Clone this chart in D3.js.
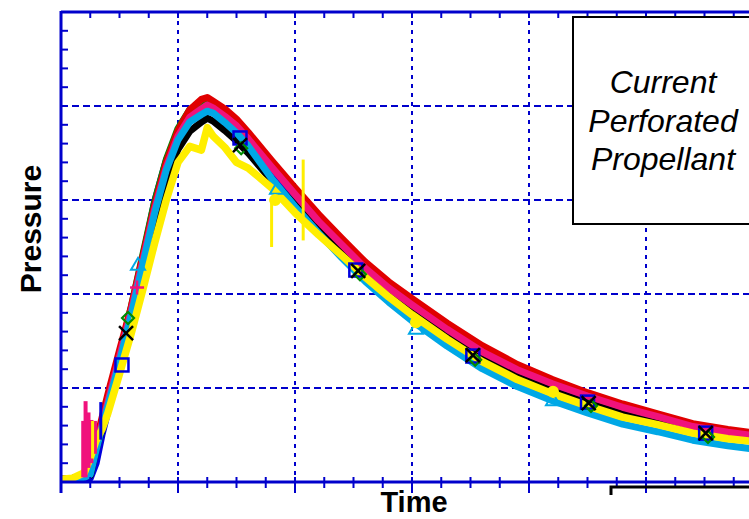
<!DOCTYPE html>
<html><head><meta charset="utf-8">
<script src="https://cdn.jsdelivr.net/npm/d3@7"></script>
<style>body{margin:0;background:#fff;overflow:hidden}</style>
</head><body>
<svg id="c" width="749" height="519"></svg>
<script>
// ---- data (time in arbitrary units, pressure in arbitrary units) ----
const time   = [0,1,2,2.5,3,3.5,4,5,6,7,8,9,10,11,12,12.5,13,14,15,16,18,20,22,24,26,28,30,33,36,39,42,45,48,51,54,57,60];
const blue   = [0.1,0.1,0.2,0.4,2.0,5.0,7.5,12.5,17.8,23.8,29.8,34.2,37.2,39.0,39.8,39.9,39.5,38.6,37.5,36.0,32.6,29.8,27.2,24.7,22.3,20.2,18.3,15.6,13.2,11.3,9.8,8.5,7.4,6.5,5.6,5.0,4.5];
const black  = [0.3,0.4,0.6,0.7,3.5,5.6,7.7,11.9,16.4,21.9,27.4,32.1,35.4,37.3,38.3,38.7,38.4,37.4,36.3,35.0,32.1,29.5,26.9,24.5,22.1,20.0,18.1,15.5,13.1,11.2,9.7,8.4,7.3,6.5,5.6,5.0,4.5];
const green  = [0.3,0.4,0.6,1.0,3.6,6.0,8.4,13.4,18.6,24.2,29.8,34.3,37.6,39.6,40.4,40.6,40.3,39.5,38.4,37.0,33.9,31.0,28.2,25.6,23.1,21.0,19.2,16.6,14.2,12.2,10.6,9.2,8.0,7.0,6.0,5.4,4.9];
const red    = [0.3,0.4,0.6,1.2,4.3,6.8,9.3,14.0,18.6,24.0,29.4,34.0,37.4,39.6,40.7,40.9,40.5,39.7,38.6,37.2,34.2,31.3,28.5,25.9,23.4,21.3,19.5,16.9,14.5,12.5,10.9,9.5,8.3,7.25,6.2,5.6,5.1];
const pink   = [0.3,0.4,0.7,1.5,3.9,6.2,8.5,13.3,18.2,23.6,29.0,33.5,36.8,38.8,39.7,40.1,39.8,38.9,37.9,36.5,33.5,30.6,27.75,25.25,22.75,20.65,18.85,16.25,13.85,11.95,10.45,9.15,7.95,6.95,5.9,5.3,4.8];
const cyan   = [0.3,0.3,0.5,0.8,3.4,5.8,8.1,12.8,17.8,23.2,28.6,33.2,36.4,38.3,39.1,39.45,39.25,38.25,37.15,35.75,32.3,29.3,26.5,23.85,21.35,19.15,17.15,14.45,12.05,10.15,8.65,7.35,6.15,5.35,4.45,3.85,3.4];
const yellow = [0.3,0.4,1.0,2.6,4.4,5.6,7.3,11.5,15.8,20.5,25.4,30.0,34.0,35.7,35.3,37.7,36.8,35.6,34.0,33.4,31.3,28.65,26.3,24.1,21.8,19.7,17.8,15.2,12.8,10.9,9.4,8.1,6.9,6.1,5.2,4.6,4.2];

// noise spikes: [series, time, low, high]
const spikes = [["pink",1.9,0.5,6.5],["pink",2.1,0.5,8.6],["pink",2.35,1.5,7.4],["pink",2.6,2.0,6.6],["pink",2.9,3.0,6.5],
                ["yellow",2.7,2.5,6.5],["blue",3.4,4.5,8.5],["yellow",18.0,25.0,30.0],["yellow",20.7,25.7,34.3]];

// markers [time, pressure]
const markSquare   = [[5.21,12.45],[15.3,36.6],[25.2,22.55],[35.2,13.4],[45.0,8.5],[55.1,5.2]];
const markX        = [[5.56,15.85],[15.3,35.85],[25.4,22.45],[35.2,13.5],[45.1,8.4],[55.1,5.2]];
const markDiamond  = [[5.73,17.45],[15.4,35.5],[25.55,22.1],[35.4,13.0],[45.3,8.1],[55.3,4.8]];
const markPlus     = [[6.5,20.7]];
const markTriangle = [[6.58,23.1],[18.46,31.2],[30.34,16.3],[42.05,8.7]];
const markCircle   = [[18.3,30.0],[30.34,17.0],[42.05,9.6]];

const xMajor = [10,20,30,40,50];
const yMajor = [10,20,30,40];
const xMinor = d3.range(0, 60.01, 2.5);
const yMinor = d3.range(0, 50.01, 2);
const legendLines = ["Current","Perforated","Propellant"];

// ---- drawing ----
const svg = d3.select("#c");
const L = 61, T = 12, B = 482, R = 749;
const x = d3.scaleLinear().domain([0,60]).range([L, 763]);
const y = d3.scaleLinear().domain([0,50]).range([B, T]);
const AX = "#0000cc";

svg.append("defs").append("clipPath").attr("id","pc")
  .append("rect").attr("x",L).attr("y",T).attr("width",R-L).attr("height",B-T);

// gridlines
svg.append("g").selectAll("line").data(xMajor).join("line")
  .attr("x1",d=>x(d)).attr("x2",d=>x(d)).attr("y1",T).attr("y2",B)
  .attr("stroke",AX).attr("stroke-width",2).attr("stroke-dasharray","4,5");
svg.append("g").selectAll("line").data(yMajor).join("line")
  .attr("x1",L).attr("x2",R).attr("y1",d=>y(d)).attr("y2",d=>y(d))
  .attr("stroke",AX).attr("stroke-width",2).attr("stroke-dasharray","7,4");

// series
const colors = {blue:"#0000dd", black:"#000000", green:"#008a00", red:"#e00000", pink:"#f0127c", cyan:"#00a8e6", yellow:"#ffee00"};
const seriesData = {blue, black, green, red, pink, cyan, yellow};
const order = ["blue","black","green","red","pink","cyan","yellow"];
const gS = svg.append("g").attr("clip-path","url(#pc)");
const line = d3.line().x((d,i)=>x(time[i])).y(d=>y(d));
order.forEach(k=>{
  gS.append("path").datum(seriesData[k]).attr("d",line)
    .attr("fill","none").attr("stroke",colors[k]).attr("stroke-width",k==="yellow"?7.5:7)
    .attr("stroke-linejoin","round").attr("stroke-linecap","round");
});
gS.selectAll("line.sp").data(spikes).join("line")
  .attr("x1",d=>x(d[1])).attr("x2",d=>x(d[1])).attr("y1",d=>y(d[2])).attr("y2",d=>y(d[3]))
  .attr("stroke",d=>colors[d[0]]).attr("stroke-width",d=>d[0]==="pink"?4:3);

// markers
const gM = svg.append("g").attr("clip-path","url(#pc)");
gM.selectAll("rect.sq").data(markSquare).join("rect")
  .attr("x",d=>x(d[0])-6.5).attr("y",d=>y(d[1])-6.5).attr("width",13).attr("height",13)
  .attr("fill","none").attr("stroke","#0000dd").attr("stroke-width",2.5);
gM.selectAll("path.tri").data(markTriangle).join("path")
  .attr("d",d=>{const cx=x(d[0]), cy=y(d[1]); return `M${cx},${cy-7}L${cx+7},${cy+5}L${cx-7},${cy+5}Z`;})
  .attr("fill","none").attr("stroke","#00a8e6").attr("stroke-width",2);
gM.selectAll("circle.ci").data(markCircle).join("circle")
  .attr("cx",d=>x(d[0])).attr("cy",d=>y(d[1])).attr("r",5)
  .attr("fill","#ffee00").attr("stroke","#ffee00").attr("stroke-width",2);
gM.selectAll("path.dm").data(markDiamond).join("path")
  .attr("d",d=>{const cx=x(d[0]), cy=y(d[1]); return `M${cx},${cy-6}L${cx+6},${cy}L${cx},${cy+6}L${cx-6},${cy}Z`;})
  .attr("fill","none").attr("stroke","#008a00").attr("stroke-width",2.2);
gM.selectAll("path.pl").data(markPlus).join("path")
  .attr("d",d=>{const cx=x(d[0]), cy=y(d[1]); return `M${cx-7},${cy}H${cx+7}M${cx},${cy-7}V${cy+7}`;})
  .attr("stroke","#f0127c").attr("stroke-width",2.5);
gM.selectAll("path.xx").data(markX).join("path")
  .attr("d",d=>{const cx=x(d[0]), cy=y(d[1]); return `M${cx-7},${cy-7}L${cx+7},${cy+7}M${cx+7},${cy-7}L${cx-7},${cy+7}`;})
  .attr("stroke","#000").attr("stroke-width",2.5);

// axes frame
const gA = svg.append("g").attr("stroke",AX);
gA.append("line").attr("x1",L).attr("x2",R).attr("y1",T).attr("y2",T).attr("stroke-width",3);
gA.append("line").attr("x1",L).attr("x2",R).attr("y1",B).attr("y2",B).attr("stroke-width",3);
gA.append("line").attr("x1",L).attr("x2",L).attr("y1",T-1).attr("y2",493).attr("stroke-width",3);
// ticks
gA.selectAll("line.tt").data(xMinor).join("line")
  .attr("x1",d=>x(d)).attr("x2",d=>x(d)).attr("y1",T).attr("y2",T+6).attr("stroke-width",2);
gA.selectAll("line.bt").data(xMinor).join("line")
  .attr("x1",d=>x(d)).attr("x2",d=>x(d)).attr("y1",B-5)
  .attr("y2",d=>xMajor.includes(d)?B+11:B+6).attr("stroke-width",2);
gA.selectAll("line.lt").data(yMinor).join("line")
  .attr("x1",L).attr("x2",L+7).attr("y1",d=>y(d)).attr("y2",d=>y(d)).attr("stroke-width",2);

// legend box
svg.append("rect").attr("x",573).attr("y",17).attr("width",200).attr("height",207)
  .attr("fill","#fff").attr("stroke","#000").attr("stroke-width",2);
svg.append("g").selectAll("text").data(legendLines).join("text")
  .attr("x",663).attr("y",(d,i)=>93+i*38.5).attr("text-anchor","middle")
  .attr("font-family","Liberation Sans, Arial, sans-serif").attr("font-style","italic")
  .attr("font-size",32).attr("fill","#000").text(d=>d);

// bottom-right box fragment
svg.append("path").attr("d","M611,495V487H760").attr("fill","none").attr("stroke","#000").attr("stroke-width",3);

// axis titles
svg.append("text").attr("x",414).attr("y",512).attr("text-anchor","middle")
  .attr("font-family","Liberation Sans, Arial, sans-serif").attr("font-weight","bold")
  .attr("font-size",29).attr("fill","#000").text("Time");
svg.append("text").attr("transform","translate(41,229) rotate(-90)").attr("text-anchor","middle")
  .attr("font-family","Liberation Sans, Arial, sans-serif").attr("font-weight","bold")
  .attr("font-size",30).attr("fill","#000").text("Pressure");
</script>
</body></html>
